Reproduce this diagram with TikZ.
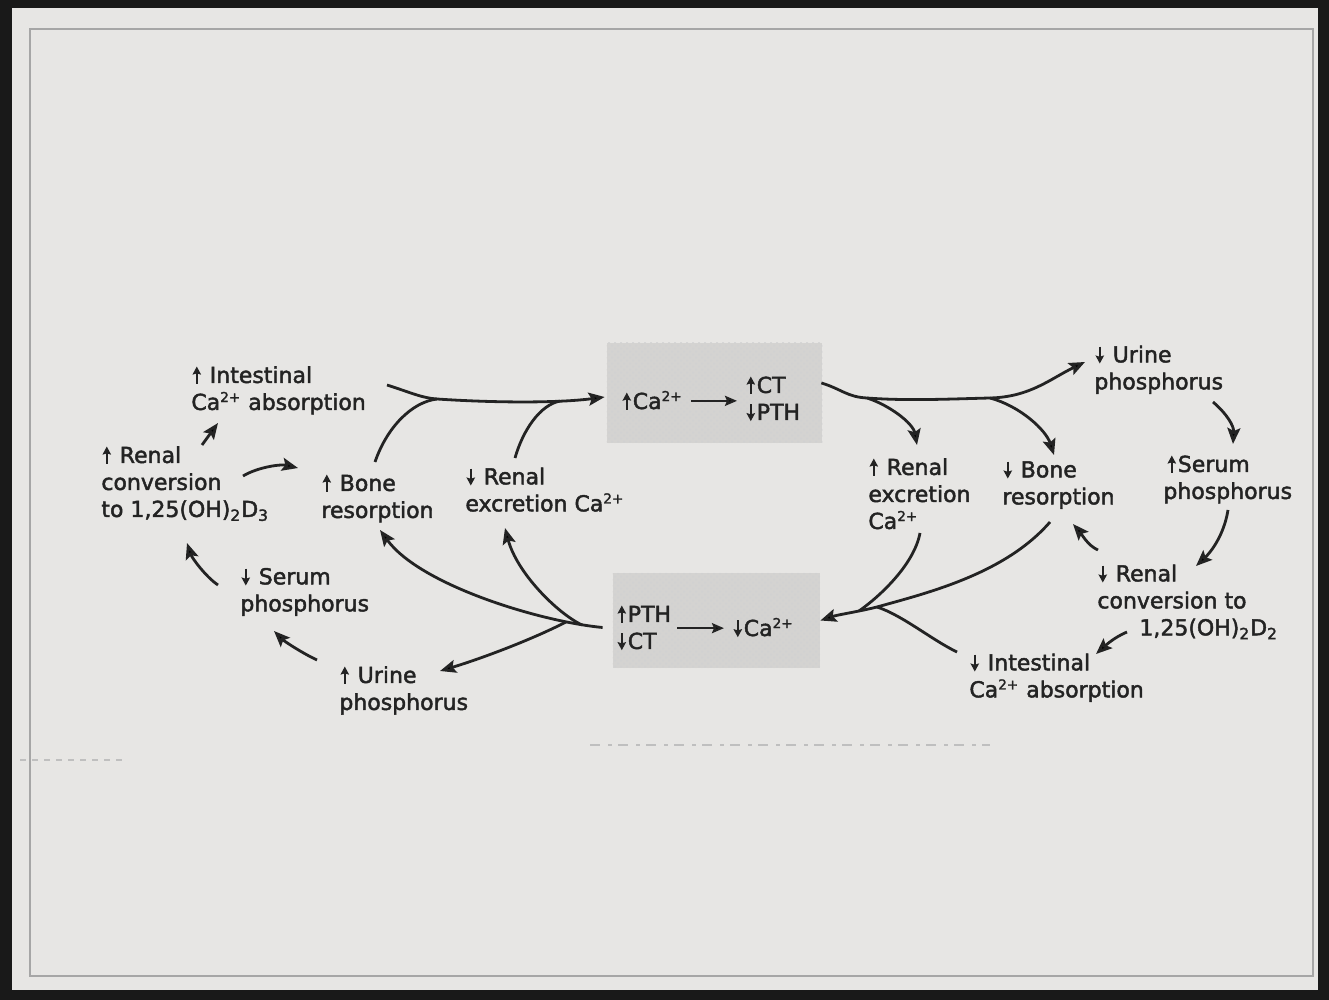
\documentclass[tikz,border=0pt]{standalone}
\usepackage{fontspec}
\usetikzlibrary{arrows.meta,calc,patterns}
\newfontfamily\djf{DejaVu Sans}[FakeBold=2]
\definecolor{page}{HTML}{E7E6E4}
\definecolor{ink}{HTML}{232323}
\definecolor{stip}{HTML}{D4D3D1}
\newcommand\UpA{\hspace{0.6pt}\tikz[baseline=0pt]\draw[ink,line width=1.15pt,-{Stealth[length=4pt,width=4.2pt,inset=0.6pt]}] (0pt,-0.3pt) -- (0pt,8.2pt);\hspace{0.9pt}}
\newcommand\DnA{\hspace{0.6pt}\tikz[baseline=0pt]\draw[ink,line width=1.15pt,-{Stealth[length=4pt,width=4.2pt,inset=0.6pt]}] (0pt,7.9pt) -- (0pt,-0.6pt);\hspace{0.9pt}}
\newcommand\CaP{Ca\textsuperscript{\fontsize{6.8}{7}\selectfont 2+}}
\begin{document}
\begin{tikzpicture}[x=0.5pt,y=-0.5pt,
  lbl/.style={anchor=north west,inner sep=0pt,align=left,font=\djf\fontsize{11}{13.5}\selectfont,text=ink},
  arr/.style={draw=ink,line width=1.4pt,-{Stealth[length=8pt,width=6.5pt,inset=1.5pt]}},
  arrs/.style={draw=ink,line width=1.1pt,-{Stealth[length=6pt,width=5pt,inset=1pt]}},
  lnk/.style={draw=ink,line width=1.4pt},
  stipbox/.style={fill=stip,draw=none,inner sep=0pt}]
\useasboundingbox (0,0) rectangle (1329,1000);
% page
\fill[black!90] (0,0) rectangle (1329,1000);
\fill[page] (12,8) rectangle (1318,990);
\draw[black!35,line width=0.8pt] (30,29) rectangle (1313,976);
% scan artifacts
\draw[black!25,line width=0.7pt,dash pattern=on 5pt off 4pt on 2pt off 3pt] (590,745) -- (990,745);
\draw[black!25,line width=0.7pt,dash pattern=on 3pt off 3pt] (20,760) -- (125,760);

% shaded boxes
\node[stipbox,minimum width=107.5pt,minimum height=50pt] (tbox) at (714.5,393) {};
\node[stipbox,minimum width=103.5pt,minimum height=47.5pt] (bbox) at (716.5,620.5) {};
\fill[pattern=crosshatch dots,pattern color=black!18] (tbox.south west) rectangle (tbox.north east);
\fill[pattern=crosshatch dots,pattern color=black!18] (bbox.south west) rectangle (bbox.north east);

% box contents
\node[lbl,anchor=base west] (caup) at (621,409) {\UpA\CaP};
\node[lbl] (ctpth) at (745,375) {\UpA CT\\\DnA PTH};
\node[lbl] (ptct) at (616,604) {\UpA PTH\\\DnA CT};
\node[lbl,anchor=base west] (cadn) at (732,636) {\DnA\CaP};
\draw[arrs,shorten <=4pt,shorten >=4pt] (caup.east) -- (caup.east -| ctpth.west);
\draw[arrs,shorten <=3pt,shorten >=4pt] (ptct.east |- cadn.west) -- (cadn.west);

% text nodes
\node[lbl] (A) at (191,365) {\UpA\ Intestinal\\\CaP\ absorption};
\node[lbl] (B) at (101,445) {\UpA\ Renal\\conversion\\to 1,25(OH)\textsubscript{2}D\textsubscript{3}};
\node[lbl] (C) at (321,473) {\UpA\ Bone\\resorption};
\node[lbl] (D) at (465,467) {\DnA\ Renal\\excretion \CaP};
\node[lbl] (G) at (1094,345) {\DnA\ Urine\\phosphorus};
\node[lbl] (H) at (868,457) {\UpA\ Renal\\excretion\\\CaP};
\node[lbl] (I) at (1002,460) {\DnA\ Bone\\resorption};
\node[lbl] (J) at (1163,454) {\hspace*{1.5pt}\UpA Serum\\phosphorus};
\node[lbl] (K) at (1097,564) {\DnA\ Renal\\conversion to\\\hspace*{21pt}1,25(OH)\textsubscript{2}D\textsubscript{2}};
\node[lbl] (L) at (969,653) {\DnA\ Intestinal\\\CaP\ absorption};
\node[lbl] (M) at (240,567) {\DnA\ Serum\\phosphorus};
\node[lbl] (N) at (339,665) {\UpA\ Urine\\phosphorus};

% junctions
\coordinate (jA) at (437,399);
\coordinate (jB) at (560,401);
\coordinate (jC) at (867,398);
\coordinate (jD) at (990,398);
\coordinate (jE) at (859,611);
\coordinate (jF) at (877,607);
\coordinate (jG) at (566,622);
\coordinate (jH) at (582,625);

% top left merge into upper box
\draw[arr] ($(A.north west)+(196,20)$) .. controls +(25,8) and +(-15,-1) .. (jA)
   .. controls +(60,4) and +(-45,6) .. ($(tbox.west)+(-2,4)$);
\draw[lnk] ($(C.north west)+(54,-11)$) .. controls +(12,-35) and +(-25,3) .. (jA);
\draw[lnk] ($(D.north west)+(50,-9)$) .. controls +(8,-28) and +(-20,4) .. (jB);

% upper box fan out to the right
\draw[arr] ($(tbox.east)+(-1,-10)$) .. controls +(20,6) and +(-20,-1) .. (jC)
   .. controls +(40,3) and +(-40,1) .. (jD)
   .. controls +(40,-1) and +(-35,17) .. ($(G.north west)+(-9,17)$);
\draw[arr] (jC) .. controls +(22,7) and +(-4,-22) .. ($(H.north west)+(49,-12)$);
\draw[arr] (jD) .. controls +(30,8) and +(-8,-25) .. ($(I.north west)+(52,-5)$);

% right cycle
\draw[arr] ($(G.north west)+(119,57)$) .. controls +(14,12) and +(1,-18) .. ($(J.north west)+(70,-10)$);
\draw[arr] ($(J.north west)+(65,56)$) .. controls +(-4,25) and +(15,-14) .. ($(K.north west)+(99,2)$);
\draw[arr] ($(K.north west)+(1,-14)$) .. controls +(-10,-4) and +(7,8) .. ($(I.north west)+(71,64)$);
\draw[arr] ($(K.north west)+(30,68)$) .. controls +(-12,5) and +(10,-9) .. ($(L.north west)+(127,1)$);

% bottom right merge into lower box
\draw[arr] ($(I.north west)+(48,62)$) .. controls +(-45,52) and +(50,-14) .. (jF)
   .. controls +(-20,5) and +(18,-6) .. (bbox.east);
\draw[lnk] ($(H.north west)+(52,76)$) .. controls +(-6,32) and +(20,-14) .. (jE);
\draw[lnk] ($(L.north west)+(-12,-1)$) .. controls +(-25,-12) and +(25,8) .. (jF);

% lower box fan out to the left
\draw[arr] ($(bbox.west)+(-10,7)$) .. controls +(-63,-6) and +(40,55) .. ($(C.north west)+(59,57)$);
\draw[arr] (jH) .. controls +(-25,-12) and +(12,45) .. ($(D.north west)+(40,61)$);
\draw[arr] (jG) .. controls +(-35,18) and +(40,-12) .. ($(N.north west)+(101,6)$);

% left cycle
\draw[arr] ($(N.north west)+(-22,-5)$) .. controls +(-15,-7) and +(10,10) .. ($(M.north west)+(34,64)$);
\draw[arr] ($(M.north west)+(-22,18)$) .. controls +(-12,-8) and +(5,15) .. ($(B.north west)+(86,98)$);
\draw[arr] ($(B.north west)+(101,0)$) -- ($(A.north west)+(27,58)$);
\draw[arr] ($(B.north west)+(142,31)$) .. controls +(15,-9) and +(-17,-4) .. ($(C.north west)+(-23,-5)$);
\end{tikzpicture}
\end{document}
